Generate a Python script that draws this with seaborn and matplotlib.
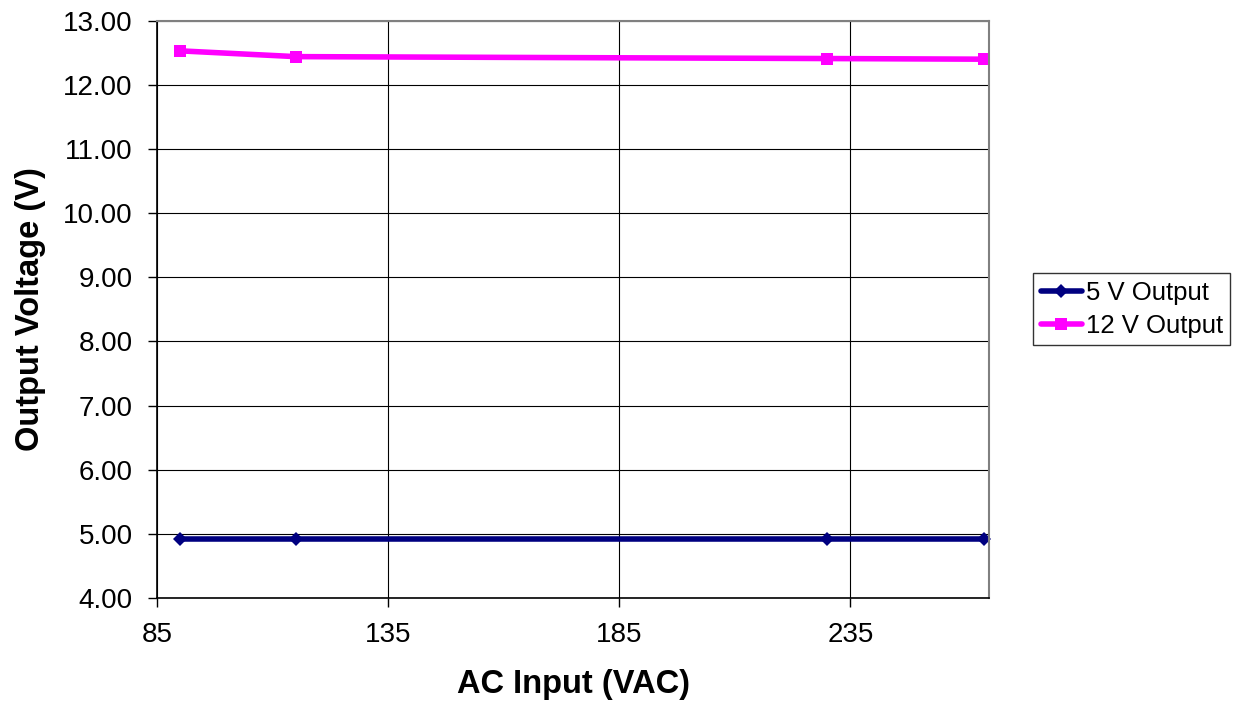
import matplotlib
matplotlib.use("Agg")
import matplotlib.pyplot as plt
import seaborn as sns
import pandas as pd

ac_input = [90, 115, 230, 264]
out_5v = [4.92, 4.92, 4.92, 4.92]
out_12v = [12.53, 12.44, 12.41, 12.40]
series_names = ["5 V Output", "12 V Output"]
x_ticks = [85, 135, 185, 235]
y_ticks = [4, 5, 6, 7, 8, 9, 10, 11, 12, 13]

df = pd.DataFrame({
    "AC Input (VAC)": ac_input * 2,
    "Output Voltage (V)": out_5v + out_12v,
    "Series": [series_names[0]] * len(ac_input) + [series_names[1]] * len(ac_input),
})

sns.set_theme(style="white")
plt.rcParams["font.family"] = ["Liberation Sans", "DejaVu Sans"]
plt.rcParams.update({
    "text.color": "black",
    "axes.labelcolor": "black",
    "xtick.color": "black",
    "ytick.color": "black",
})

fig = plt.figure(figsize=(12.38, 7.14), dpi=100)
ax = fig.add_axes([0.1268, 0.1625, 0.6721, 0.8085])

palette = {series_names[0]: "#000080", series_names[1]: "#FF00FF"}
sns.lineplot(data=df, x="AC Input (VAC)", y="Output Voltage (V)", hue="Series",
             style="Series", markers={series_names[0]: "D", series_names[1]: "s"},
             dashes=False, palette=palette, linewidth=4, ax=ax, legend=False)
for line, ms in zip(ax.lines, [7, 8.5]):
    line.set_markersize(ms)
    line.set_markeredgewidth(0)
    line.set_clip_on(False)

ax.set_xlim(85, 265)
ax.set_ylim(4, 13)
ax.set_xticks(x_ticks)
ax.set_yticks(y_ticks)
ax.set_yticklabels([f"{v:.2f}" for v in y_ticks])
ax.grid(True, color="black", linewidth=0.8)
ax.set_axisbelow(True)
ax.tick_params(axis="both", which="major", labelsize=20, direction="out",
               length=6.5, width=1, color="black", bottom=True, left=True, pad=11)
for side in ["left", "bottom"]:
    ax.spines[side].set_color("black")
    ax.spines[side].set_linewidth(1.2)
for side in ["top", "right"]:
    ax.spines[side].set_color("#808080")
    ax.spines[side].set_linewidth(1.5)

ax.set_xlabel("AC Input (VAC)", fontsize=23.5, fontweight="bold", labelpad=15)
ax.set_ylabel("Output Voltage (V)", fontsize=23.5, fontweight="bold", labelpad=12)

handles = [
    plt.Line2D([], [], color=palette[series_names[0]], marker="D", markersize=7,
               linewidth=4, markeredgewidth=0),
    plt.Line2D([], [], color=palette[series_names[1]], marker="s", markersize=8.5,
               linewidth=4, markeredgewidth=0),
]
leg = fig.legend(handles, series_names, loc="center left",
                 bbox_to_anchor=(0.8344, 0.567), borderaxespad=0, fontsize=18.5,
                 frameon=True, fancybox=False, edgecolor="black", handlelength=1.6,
                 handletextpad=0.15, borderpad=0.3, labelspacing=0.35)
leg.get_frame().set_linewidth(1.0)

fig.savefig("out.png", dpi=100, facecolor="white")
